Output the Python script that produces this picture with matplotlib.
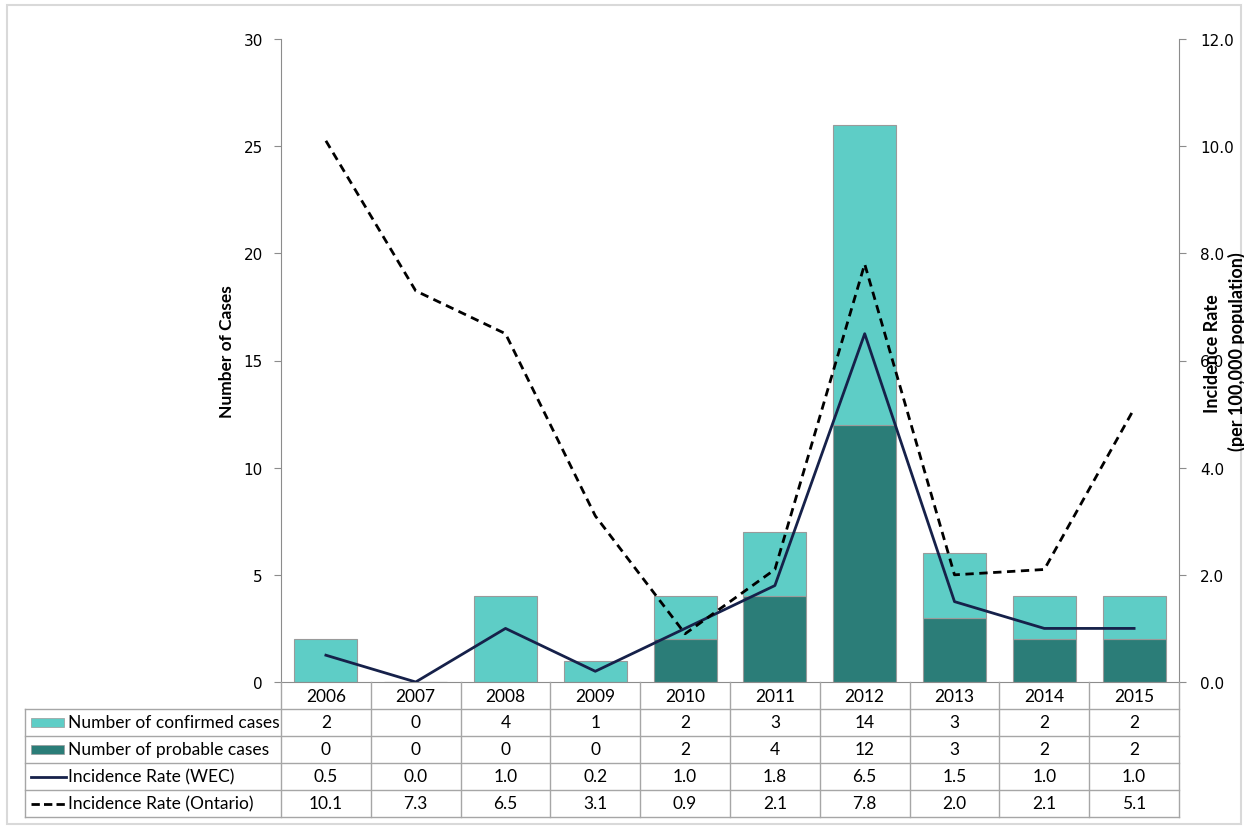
import numpy as np
import matplotlib.pyplot as plt
from matplotlib.patches import Rectangle

# data
years = ["2006", "2007", "2008", "2009", "2010", "2011", "2012", "2013", "2014", "2015"]
confirmed = [2, 0, 4, 1, 2, 3, 14, 3, 2, 2]
probable = [0, 0, 0, 0, 2, 4, 12, 3, 2, 2]
rate_wec = [0.5, 0.0, 1.0, 0.2, 1.0, 1.8, 6.5, 1.5, 1.0, 1.0]
rate_ont = [10.1, 7.3, 6.5, 3.1, 0.9, 2.1, 7.8, 2.0, 2.1, 5.1]

c_conf = "#5ecdc6"
c_prob = "#2b7d78"
c_wec = "#16214a"
c_ont = "black"
grid_c = "#a6a6a6"

W, H = 1244, 829
fig = plt.figure(figsize=(W / 100, H / 100), dpi=100)
plt.rcParams['font.family'] = ['Lato', 'DejaVu Sans']

def box(l, t, r, b):
    return [l / W, 1 - b / H, (r - l) / W, (b - t) / H]

# outer chart frame
fig.patches.append(Rectangle((7 / W, 1 - 825 / H), 1234 / W, 819 / H, transform=fig.transFigure,
                             fill=False, edgecolor="#d9d9d9", lw=1.5))

ax = fig.add_axes(box(281, 40, 1179, 683))
x = np.arange(len(years))
ax.bar(x, probable, 0.7, color=c_prob, edgecolor="#9a9a9a", lw=0.8)
ax.bar(x, confirmed, 0.7, bottom=probable, color=c_conf, edgecolor="#9a9a9a", lw=0.8)
ax.set_xlim(-0.5, 9.5)
ax.set_ylim(0, 30)
ax.set_yticks(range(0, 31, 5))
ax.set_xticks([])
for s in ["top", "right"]:
    ax.spines[s].set_visible(False)
for s in ["left", "bottom"]:
    ax.spines[s].set_color("#8c8c8c")
ax.tick_params(axis="y", colors="#8c8c8c", labelcolor="black", length=5, labelsize=11, pad=8)
for t in ax.get_yticklabels():
    t.set_family("DejaVu Sans")

ax2 = ax.twinx()
ax2.plot(x, rate_wec, color=c_wec, lw=2)
ax2.plot(x, rate_ont, color=c_ont, lw=2, ls=(0, (3, 2)))
ax2.set_ylim(0, 12)
ax2.set_yticks(np.arange(0, 12.1, 2))
ax2.set_yticklabels(["%.1f" % v for v in np.arange(0, 12.1, 2)])
for s in ["top", "left", "bottom"]:
    ax2.spines[s].set_visible(False)
ax2.spines["right"].set_color("#8c8c8c")
ax2.tick_params(axis="y", colors="#8c8c8c", labelcolor="black", length=5, labelsize=11, pad=10)
for t in ax2.get_yticklabels():
    t.set_family("DejaVu Sans")

# axis titles
fig.text(227 / W, 1 - 352 / H, "Number of Cases", fontsize=12.5, fontweight="bold",
         rotation=90, ha="center", va="center")
fig.text(1213 / W, 1 - 354 / H, "Incidence Rate", fontsize=13,
         fontweight="bold", rotation=90, ha="center", va="center")
fig.text(1237 / W, 1 - 352 / H, "(per 100,000 population)", fontsize=13,
         fontweight="bold", rotation=90, ha="center", va="center")

# data table under the chart
cw = 898 / 10
x0 = -0.5 - (281 - 25) / cw
tax = fig.add_axes(box(25, 683, 1179, 818))
tax.set_xlim(x0, 9.5)
tax.set_ylim(5, 0)
tax.axis("off")
for r in range(1, 6):
    tax.plot([x0, 9.5], [r, r], color=grid_c, lw=1, clip_on=False)
tax.plot([x0, x0], [1, 5], color=grid_c, lw=1, clip_on=False)
for k in range(11):
    tax.plot([k - 0.5, k - 0.5], [0, 5], color=grid_c, lw=1, clip_on=False)

fs = 12.5
for i, yr in enumerate(years):
    tax.text(i, 0.5, yr, ha="center", va="center", fontsize=fs)
rows = [[str(v) for v in confirmed], [str(v) for v in probable],
        ["%.1f" % v for v in rate_wec], ["%.1f" % v for v in rate_ont]]
for r, vals in enumerate(rows):
    for i, v in enumerate(vals):
        tax.text(i, r + 1.5, v, ha="center", va="center", fontsize=fs)

labels = ["Number of confirmed cases", "Number of probable cases",
          "Incidence Rate (WEC)", "Incidence Rate (Ontario)"]
sx0, sx1 = x0 + 6 / cw, x0 + 39 / cw
tx = x0 + 43 / cw
tax.add_patch(Rectangle((sx0, 1.35), sx1 - sx0, 0.3, facecolor=c_conf, edgecolor="#9a9a9a", lw=0.5))
tax.add_patch(Rectangle((sx0, 2.35), sx1 - sx0, 0.3, facecolor=c_prob, edgecolor="#9a9a9a", lw=0.5))
tax.plot([sx0, sx1 + 2 / cw], [3.5, 3.5], color=c_wec, lw=2)
tax.plot([sx0, sx1 + 2 / cw], [4.5, 4.5], color=c_ont, lw=2, ls=(0, (3, 1.5)))
for r, lab in enumerate(labels):
    tax.text(tx, r + 1.5, lab, ha="left", va="center", fontsize=fs)

fig.savefig("out.png", dpi=100)
